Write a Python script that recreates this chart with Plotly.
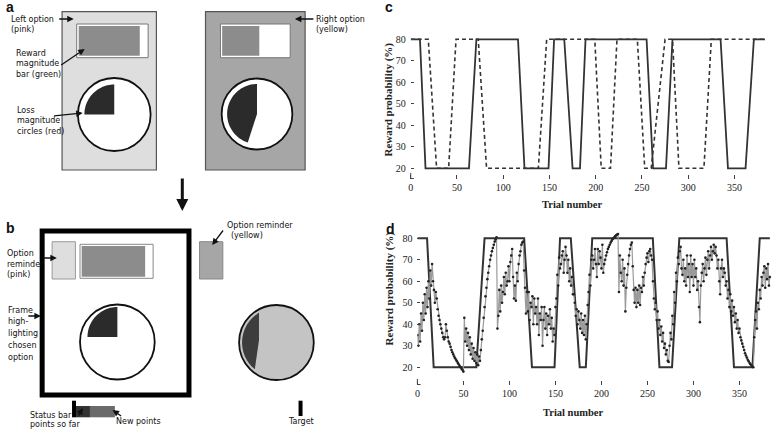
import numpy as np
import plotly.graph_objects as go

# ---- data : panel c (reward schedules of the two options) ----
trial_c_solid = [0, 10, 16, 63, 71, 116, 123, 149, 155, 166, 175, 183, 189, 255, 262, 276, 283, 335, 343, 362, 371, 383]
prob_c_solid = [80, 80, 20, 20, 80, 80, 20, 20, 80, 80, 20, 20, 80, 80, 20, 20, 80, 80, 20, 20, 80, 80]
trial_c_dashed = [0, 19, 28, 41, 49, 73, 82, 138, 147, 199, 206, 216, 223, 245, 253, 260, 275, 283, 290, 317, 325, 383]
prob_c_dashed = [80, 80, 20, 20, 80, 80, 20, 20, 80, 80, 20, 20, 80, 80, 20, 20, 80, 80, 20, 20, 80, 80]

# ---- data : panel d (true schedule and trial-by-trial estimate) ----
trial_d_true = [0, 10.5, 17.7, 64, 73, 116, 124.5, 149, 155, 166.7, 176.4, 183, 190, 255.8, 263, 276.7, 284.6, 336, 344, 364, 372, 383]
prob_d_true = [80, 80, 20, 20, 80, 80, 20, 20, 80, 80, 20, 20, 80, 80, 20, 20, 80, 80, 20, 20, 80, 80]
prob_d_est = [
    35, 30, 40, 32, 45, 37, 50, 42, 54, 45,
    57, 48, 60, 52, 65, 58, 68, 60, 56, 50,
    55, 52, 47, 44, 42, 40, 38, 36, 34, 33,
    34, 40, 37, 34, 32, 31, 29.5, 28, 27, 26,
    25, 24.2, 23.5, 22.8, 22, 21.3, 20.6, 20, 19.3, 18.7,
    18, 43, 32, 38, 30, 36, 28, 34, 26, 31,
    24, 29, 23, 27, 22, 26, 21, 25, 23, 28,
    33, 37, 43, 48, 53, 57, 61, 64, 67, 70,
    72, 74, 75.5, 77, 78.5, 79.5, 80.5, 38, 44, 56,
    46, 58, 50, 55, 62, 54, 64, 58, 60, 67,
    60, 69, 72, 75, 62, 52, 58, 51, 64, 60,
    68, 72, 74, 77, 78, 78.5, 65, 57, 45, 55,
    46, 55, 42, 50, 48, 53, 40, 52, 45, 48,
    40, 52, 35, 45, 42, 48, 30, 42, 48, 38,
    45, 35, 44, 40, 47, 38, 43, 32, 38, 35,
    48, 52, 63, 58, 71, 66, 68, 72, 74, 64,
    70, 76, 72, 64, 70, 60, 66, 58, 62, 54,
    54, 50, 44, 47, 40, 46, 42, 38, 45, 36,
    42, 35, 44, 33, 40, 49, 55, 63, 58, 70,
    72, 66, 70, 75, 68, 62, 75, 68, 74, 71,
    66, 77, 64, 68, 70, 72, 73.5, 75, 76, 77,
    78, 78.8, 79.5, 80, 80.5, 81, 81.4, 81.8, 82, 55,
    72, 64, 60, 70, 58, 66, 46, 57, 63, 68,
    72, 75, 77, 78, 67, 56, 50, 57, 48, 56,
    50, 58, 49, 57, 55, 62, 58, 64, 68, 71,
    73, 69, 74, 75, 72, 70, 60, 52, 47, 50,
    42, 46, 38, 42, 35, 39, 32, 36, 29, 31,
    26, 28, 23, 22.5, 30, 36, 33, 44, 40, 55,
    50, 64, 60, 71, 68, 74, 76, 66, 63, 70,
    60, 66, 58, 72, 62, 68, 55, 72, 62, 68,
    58, 70, 62, 66, 56, 60, 48, 41, 58, 64,
    68, 60, 66, 71, 63, 70, 74, 66, 72, 76,
    70, 74, 77, 73, 76, 72, 66, 70, 60, 54,
    66, 70, 62, 66, 64, 58, 60, 52, 56, 48,
    54, 46, 51, 44, 48, 41, 45, 38, 42, 36,
    38, 34, 32.5, 31, 29.5, 28, 26.5, 25.5, 24.5, 23.5,
    22.8, 22, 21.4, 20.8, 20.3, 20, 34, 42, 46, 38,
    50, 47, 56, 52, 62, 58, 64, 67, 57, 66,
    61, 68, 58, 62,
]
trial_d_est = list(range(len(prob_d_est)))

x_ticks = [0, 50, 100, 150, 200, 250, 300, 350]
y_ticks = [20, 30, 40, 50, 60, 70, 80]

W, H = 773, 432
SANS = 'DejaVu Sans'
SERIF = 'Liberation Serif'


# pixel -> paper helpers (figure has no margins)
def X(px):
    return px / W


def Y(py):
    return 1 - py / H


def rect(x0, y0, x1, y1, fill, line='#555', width=1):
    return dict(type='rect', xref='paper', yref='paper', x0=X(x0), x1=X(x1), y0=Y(y1), y1=Y(y0),
                fillcolor=fill, line=dict(color=line, width=width))


def seg(x0, y0, x1, y1, color='#444', width=1):
    return dict(type='line', xref='paper', yref='paper', x0=X(x0), x1=X(x1), y0=Y(y0), y1=Y(y1),
                line=dict(color=color, width=width))


def circle(cx, cy, r, fill, line='#111', width=1.8):
    return dict(type='circle', xref='paper', yref='paper', x0=X(cx - r), x1=X(cx + r),
                y0=Y(cy + r), y1=Y(cy - r), fillcolor=fill, line=dict(color=line, width=width))


def wedge(cx, cy, r, a0, a1, fill, apex=None, n=60):
    ax_, ay_ = apex if apex else (cx, cy)
    ang = np.radians(np.linspace(a0, a1, n))
    pts = ' '.join(f'L {X(cx + r * np.cos(a)):.5f},{Y(cy - r * np.sin(a)):.5f}' for a in ang)
    path = f'M {X(ax_):.5f},{Y(ay_):.5f} {pts} Z'
    return dict(type='path', xref='paper', yref='paper', path=path, fillcolor=fill, line=dict(width=0))


def lines(x, y0, rows, size=8, step=10.5, anchor='left', font=SANS):
    out = []
    for i, s in enumerate(rows):
        out.append(dict(x=X(x), y=Y(y0 + i * step), xref='paper', yref='paper', text=s, showarrow=False,
                        xanchor=anchor, yanchor='middle', font=dict(family=font, size=size, color='#111')))
    return out


def arrow(tx, ty, hx, hy, width=1.3, size=1.0):
    return dict(x=X(hx), y=Y(hy), xref='paper', yref='paper', ax=tx - hx, ay=ty - hy,
                axref='pixel', ayref='pixel', text='', showarrow=True, arrowhead=2,
                arrowsize=size, arrowwidth=width, arrowcolor='#111')


shapes = [
    # panel a, left option
    rect(59.3, 11.7, 154, 170, '#dedede', '#555', 1.2),
    rect(74, 24, 145.7, 57.7, 'white', '#777', 1),
    rect(76, 26, 137.3, 55.7, '#8c8c8c', '#8c8c8c', 0),
    circle(111.7, 114.5, 36.5, 'white'),
    wedge(111.7, 114.5, 30, 90, 180, '#2b2b2b'),
    # panel a, right option
    rect(203.3, 11.7, 303.3, 170, '#a6a6a6', '#555', 1.2),
    rect(218.3, 24, 288.3, 57.7, 'white', '#777', 1),
    rect(220, 26, 257.3, 55.7, '#8c8c8c', '#8c8c8c', 0),
    circle(255, 114, 35.5, 'white'),
    wedge(255, 114, 30, 90, 252, '#2b2b2b'),
    # panel b
    rect(39.3, 231, 186.7, 395, 'white', '#000', 5),
    rect(49.3, 241.7, 72.7, 279, '#dedede', '#999', 1),
    rect(77.3, 244.3, 150.7, 278.3, 'white', '#888', 1),
    rect(79, 246, 142.7, 276.7, '#8c8c8c', '#8c8c8c', 0),
    circle(114.8, 342, 37.5, 'white'),
    wedge(114.8, 337, 30, 90, 180, '#2b2b2b'),
    rect(197.3, 241.7, 220.7, 279, '#a6a6a6', '#888', 1),
    circle(274.5, 342.5, 37.5, '#c4c4c4'),
    wedge(274.5, 342.5, 34.5, 120.5, 231, '#3d3d3d', apex=(257, 340)),
    rect(69.3, 400.7, 73.3, 417.3, '#000', '#000', 0),
    rect(73.3, 406, 87.3, 417.3, '#333', '#333', 0),
    rect(87.3, 406, 112.3, 417.3, '#6a6a6a', '#6a6a6a', 0),
    rect(296.7, 400.7, 300.7, 416, '#000', '#000', 0),
    # little corner marks at the origin of c and d
    seg(409.3, 173, 409.3, 178.5), seg(409.3, 178.5, 412.5, 178.5),
    seg(416, 379, 416, 384.5), seg(416, 384.5, 419.2, 384.5),
]

annotations = []
annotations += lines(6, 19, ['Left option', '(pink)'])
annotations += lines(11, 53, ['Reward', 'magnitude', 'bar (green)'])
annotations += lines(12, 110.5, ['Loss', 'magnitude', 'circles (red)'])
annotations += lines(312, 19, ['Right option', '(yellow)'])
annotations += lines(1.7, 254, ['Option', 'reminder', '(pink)'], step=10.3)
annotations += lines(222.7, 225, ['Option reminder'])
annotations += lines(226.7, 235.5, ['(yellow)'])
annotations += lines(3, 310, ['Frame', 'high-', 'lighting', 'chosen', 'option'], step=11.8)
annotations += lines(25, 415, ['Status bar', 'points so far'], step=9.5)
annotations += lines(111.7, 421.7, ['New points'])
annotations += lines(299, 421.7, ['Target'], anchor='center')
annotations += [
    arrow(55, 19, 71, 19), arrow(57, 66, 82, 49), arrow(50, 116, 80, 113), arrow(313, 19, 293, 19),
    arrow(39, 258, 54, 258), arrow(222, 229, 210, 245), arrow(24, 316, 38, 316),
    arrow(75, 417, 80, 408), arrow(120, 417, 110, 410),
    arrow(180, 177, 180, 211, width=3, size=0.8),
]
# panel letters
for s, x, y in [('a', 1, 7), ('b', 1, 228), ('c', 381, 7), ('d', 382, 229)]:
    annotations.append(dict(x=X(x), y=Y(y), xref='paper', yref='paper', text=f'<b>{s}</b>', showarrow=False,
                            xanchor='left', yanchor='middle',
                            font=dict(family='Liberation Sans', size=14, color='#111')))
# axis titles of c and d
for x, y in [(388, 99), (388, 288)]:
    annotations.append(dict(x=X(x), y=Y(y), xref='paper', yref='paper', text='<b>Reward probability (%)</b>',
                            showarrow=False, textangle=-90, xanchor='center', yanchor='middle',
                            font=dict(family=SERIF, size=11, color='#222')))
for x, y in [(572, 204), (573, 412)]:
    annotations.append(dict(x=X(x), y=Y(y), xref='paper', yref='paper', text='<b>Trial number</b>',
                            showarrow=False, xanchor='center', yanchor='middle',
                            font=dict(family=SERIF, size=10.5, color='#222')))

fig = go.Figure()
fig.add_trace(go.Scatter(x=trial_c_solid, y=prob_c_solid, mode='lines', xaxis='x', yaxis='y',
                         line=dict(color='#333', width=1.8), hoverinfo='skip'))
fig.add_trace(go.Scatter(x=trial_c_dashed, y=prob_c_dashed, mode='lines', xaxis='x', yaxis='y',
                         line=dict(color='#333', width=1.6, dash='4px,3px'), hoverinfo='skip'))
fig.add_trace(go.Scatter(x=trial_d_true, y=prob_d_true, mode='lines', xaxis='x2', yaxis='y2',
                         line=dict(color='#333', width=2), hoverinfo='skip'))
fig.add_trace(go.Scatter(x=trial_d_est, y=prob_d_est, mode='lines+markers', xaxis='x2', yaxis='y2',
                         line=dict(color='#9a9a9a', width=1.2),
                         marker=dict(color='#222', size=2.6), hoverinfo='skip'))

tickfont = dict(family=SERIF, size=10, color='#222')
xcommon = dict(range=[0, 385], tickvals=x_ticks, ticks='outside', ticklen=4, tickcolor='#444',
               showline=False, showgrid=False, zeroline=False, tickfont=tickfont)
ycommon = dict(tickvals=y_ticks, ticks='inside', ticklen=3, tickcolor='#444', showline=False,
               showgrid=False, zeroline=False, tickfont=tickfont, ticklabelstandoff=4)

fig.update_layout(
    width=W, height=H, margin=dict(l=0, r=0, t=0, b=0),
    paper_bgcolor='white', plot_bgcolor='white', showlegend=False,
    xaxis=dict(domain=[X(409.3), X(766.8)], anchor='y', **xcommon),
    yaxis=dict(domain=[Y(174), Y(34)], range=[17.35, 82.47], anchor='x', **ycommon),
    xaxis2=dict(domain=[X(416), X(771.7)], anchor='y2', **xcommon),
    yaxis2=dict(domain=[Y(380), Y(230)], range=[14.09, 83.86], anchor='x2', **ycommon),
    shapes=shapes, annotations=annotations,
)

# the page body has an 8px default margin; drop it so the figure fills the window
fig.write_html('out.html', config={'displayModeBar': False},
               post_script="document.body.style.margin='0';")
